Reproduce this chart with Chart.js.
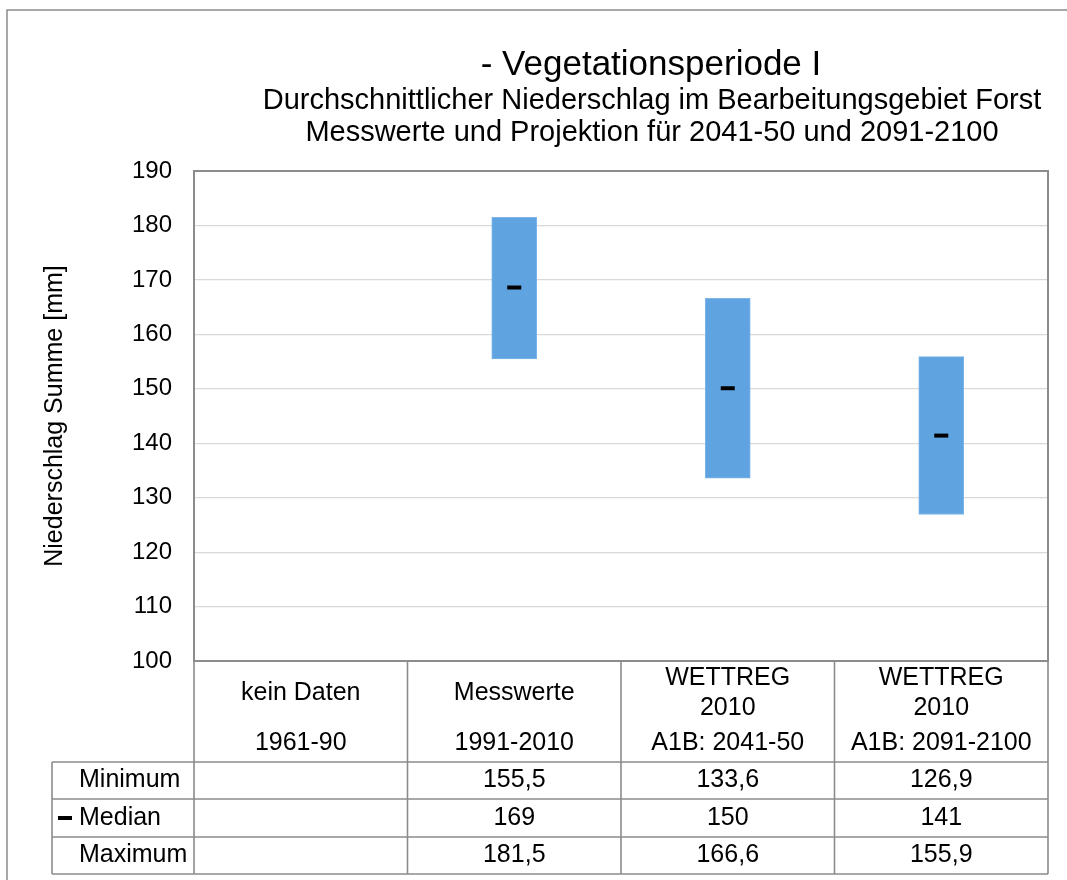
<!DOCTYPE html>
<html>
<head>
<meta charset="utf-8">
<script src="https://cdn.jsdelivr.net/npm/chart.js@4.4.1/dist/chart.umd.min.js"></script>
<style>
  html, body { margin: 0; padding: 0; background: #ffffff; }
  #wrap { width: 1067px; height: 880px; position: relative; }
</style>
</head>
<body>
<div id="wrap"><canvas id="c" width="1067" height="880"></canvas></div>
<script>
// ---- data ----
const categories = ['1961-90', '1991-2010', 'A1B: 2041-50', 'A1B: 2091-2100'];
const headLines = [['kein Daten'], ['Messwerte'], ['WETTREG', '2010'], ['WETTREG', '2010']];
const minimum = [null, 155.5, 133.6, 126.9];
const maximum = [null, 181.5, 166.6, 155.9];
const median = [null, 168.6, 150.1, 141.4];
const medianLabels = ['', '169', '150', '141'];
const rowLabels = ['Minimum', 'Median', 'Maximum'];
const yTicks = [100, 110, 120, 130, 140, 150, 160, 170, 180, 190];
const titleLines = ['- Vegetationsperiode I',
  'Durchschnittlicher Niederschlag im Bearbeitungsgebiet Forst',
  'Messwerte und Projektion für 2041-50 und 2091-2100'];
const yTitle = 'Niederschlag Summe [mm]';

const FONT = "'Liberation Sans', Arial, Helvetica, sans-serif";
const LINE = '#8c8c8c';

function fmt(v) { return v == null ? '' : v.toFixed(1).replace('.', ','); }

const extras = {
  id: 'extras',
  afterDraw(chart) {
    const ctx = chart.ctx;
    const a = chart.chartArea;
    const x = chart.scales.x;
    ctx.save();
    // outer frame
    ctx.strokeStyle = LINE; ctx.lineWidth = 1.5;
    ctx.beginPath(); ctx.moveTo(7, 880); ctx.lineTo(7, 10); ctx.lineTo(1067, 10); ctx.stroke();

    // titles
    ctx.fillStyle = '#000'; ctx.textAlign = 'center'; ctx.textBaseline = 'middle';
    ctx.font = '35px ' + FONT; ctx.fillText(titleLines[0], 651, 65);
    ctx.font = '29px ' + FONT; ctx.fillText(titleLines[1], 652, 101);
    ctx.fillText(titleLines[2], 652, 133);

    // y title
    ctx.save();
    ctx.translate(55, (a.top + a.bottom) / 2);
    ctx.rotate(-Math.PI / 2);
    ctx.font = '25px ' + FONT;
    ctx.fillText(yTitle, 0, 0);
    ctx.restore();

    // plot border
    ctx.strokeStyle = LINE; ctx.lineWidth = 2;
    ctx.strokeRect(a.left, a.top, a.right - a.left, a.bottom - a.top);

    // table geometry
    const half = (x.getPixelForValue(1) - x.getPixelForValue(0)) / 2;
    const bounds = categories.map((c, i) => x.getPixelForValue(i) - half);
    bounds.push(x.getPixelForValue(categories.length - 1) + half);
    const rowTop = 762, rowH = [799, 837, 874];
    const tableLeft = 52, tableBottom = 874;

    ctx.lineWidth = 1.6;
    ctx.beginPath();
    bounds.forEach(bx => { ctx.moveTo(bx, a.bottom); ctx.lineTo(bx, tableBottom); });
    ctx.moveTo(tableLeft, rowTop); ctx.lineTo(tableLeft, tableBottom);
    [rowTop].concat(rowH).forEach(yy => { ctx.moveTo(tableLeft, yy); ctx.lineTo(a.right, yy); });
    ctx.stroke();

    // header text
    ctx.font = '25px ' + FONT; ctx.fillStyle = '#000'; ctx.textAlign = 'center';
    categories.forEach((c, i) => {
      const cx = x.getPixelForValue(i);
      const hl = headLines[i];
      if (hl.length === 1) ctx.fillText(hl[0], cx, 693);
      else { ctx.fillText(hl[0], cx, 678); ctx.fillText(hl[1], cx, 708); }
      ctx.fillText(c, cx, 743);
    });

    // table body
    const rows = [minimum.map(fmt), medianLabels, maximum.map(fmt)];
    const rowCY = [780.5, 818, 855.5];
    rows.forEach((r, ri) => {
      ctx.textAlign = 'left';
      ctx.fillText(rowLabels[ri], 79, rowCY[ri]);
      ctx.textAlign = 'center';
      r.forEach((t, i) => { if (t) ctx.fillText(t, x.getPixelForValue(i), rowCY[ri]); });
    });
    // legend key for median
    ctx.fillStyle = '#000';
    ctx.fillRect(58, rowCY[1] - 2, 14, 4);
    ctx.restore();
  }
};

new Chart(document.getElementById('c'), {
  type: 'bar',
  data: {
    labels: categories,
    datasets: [
      {
        type: 'bar',
        label: 'Spanne',
        data: categories.map((c, i) => minimum[i] == null ? null : [minimum[i], maximum[i]]),
        backgroundColor: '#5fa3e0',
        borderColor: '#7db5e8',
        borderWidth: 1,
        borderSkipped: false,
        barThickness: 45,
        order: 2
      },
      {
        type: 'line',
        label: 'Median',
        data: median,
        showLine: false,
        pointStyle: 'line',
        pointRadius: 7,
        pointHoverRadius: 7,
        pointBorderWidth: 4,
        borderColor: '#000',
        backgroundColor: '#000',
        order: 1
      }
    ]
  },
  options: {
    responsive: false,
    animation: false,
    events: [],
    layout: { padding: { left: 0, top: 171, right: 19, bottom: 219 } },
    plugins: { legend: { display: false }, tooltip: { enabled: false }, title: { display: false } },
    scales: {
      x: { display: false, offset: true },
      y: {
        min: 100, max: 190,
        afterFit(scale) { scale.width = 194; },
        afterBuildTicks(scale) { scale.ticks = yTicks.map(v => ({ value: v })); },
        grid: { color: '#d9d9d9', lineWidth: 1.2, drawTicks: false },
        border: { display: false },
        ticks: { padding: 22, color: '#000', font: { family: FONT, size: 24 } }
      }
    }
  },
  plugins: [extras]
});
</script>
</body>
</html>
